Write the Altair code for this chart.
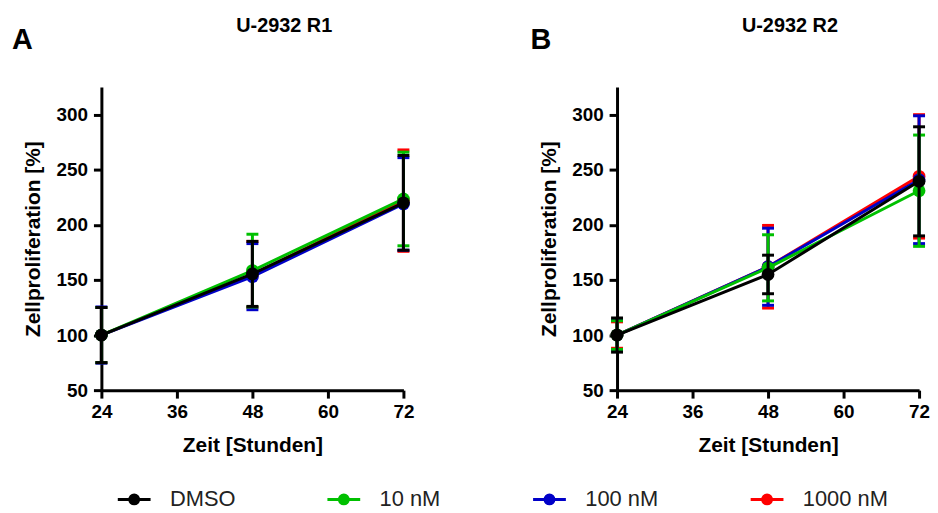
import altair as alt
import pandas as pd

TIMES = [24, 48, 72]
SERIES = ["DMSO", "10 nM", "100 nM", "1000 nM"]
COLORS = ["#000000", "#00C000", "#0000C8", "#FF0000"]
DRAW_ORDER = ["1000 nM", "100 nM", "10 nM", "DMSO"]

# Panel A (U-2932 R1): mean and SD per series at 24/48/72 h
R1_MEAN = {
    "DMSO":    [100, 155.5, 220],
    "10 nM":   [100, 158.5, 223.5],
    "100 nM":  [100, 153, 219],
    "1000 nM": [100, 155, 222],
}
R1_SD = {
    "DMSO":    [25, 29.5, 43],
    "10 nM":   [25, 33, 42.5],
    "100 nM":  [25.5, 30, 42],
    "1000 nM": [25, 30, 46],
}
# Panel B (U-2932 R2)
R2_MEAN = {
    "DMSO":    [100, 155, 239.5],
    "10 nM":   [100, 161, 231],
    "100 nM":  [100, 162, 241],
    "1000 nM": [100, 162, 244],
}
R2_SD = {
    "DMSO":    [15.5, 17.5, 49.5],
    "10 nM":   [13, 30, 50.5],
    "100 nM":  [13.5, 35, 58],
    "1000 nM": [12, 37.5, 56],
}

X_TICKS = [24, 36, 48, 60, 72]
Y_TICKS = [50, 100, 150, 200, 250, 300]

rows = []
for panel, means, sds in [("R1", R1_MEAN, R1_SD), ("R2", R2_MEAN, R2_SD)]:
    for s in SERIES:
        for t, m, e in zip(TIMES, means[s], sds[s]):
            rows.append({"panel": panel, "series": s, "time": t, "mean": m,
                         "lo": m - e, "hi": m + e})
df = pd.DataFrame(rows)

FONT = "Liberation Sans"
LEGEND_PATH = ("M-1,0H1"
               "M0.27,0A0.27,0.27,0,1,1,-0.27,0A0.27,0.27,0,1,1,0.27,0Z"
               "M0.1,0A0.1,0.1,0,1,1,-0.1,0A0.1,0.1,0,1,1,0.1,0Z")


def panel_chart(panel, title, letter, title_dx, letter_dx):
    xenc = alt.X("time:Q",
                 scale=alt.Scale(domain=[24, 72], nice=False, zero=False),
                 axis=alt.Axis(values=X_TICKS, title="Zeit [Stunden]", grid=False,
                               tickSize=8, tickWidth=3, domainWidth=3,
                               domainColor="black", tickColor="black",
                               labelFont=FONT, labelFontSize=19, labelFontWeight="bold",
                               labelColor="black", labelPadding=5, labelFlush=False,
                               titleFont=FONT, titleFontSize=21, titleFontWeight="bold",
                               titleColor="black", titleY=56, titleBaseline="middle"))
    yaxis = alt.Axis(values=Y_TICKS, title="Zellproliferation [%]", grid=False,
                     tickSize=8, tickWidth=3, domainWidth=3,
                     domainColor="black", tickColor="black",
                     labelFont=FONT, labelFontSize=19, labelFontWeight="bold",
                     labelColor="black", labelPadding=6,
                     titleFont=FONT, titleFontSize=21, titleFontWeight="bold",
                     titleColor="black", titleX=-68, titleBaseline="middle")
    yscale = alt.Scale(domain=[50, 325], nice=False, zero=False)

    base = alt.Chart(df).transform_filter(alt.datum.panel == panel)
    layers = []
    first = True
    for s in DRAW_ORDER:
        b = base.transform_filter(alt.datum.series == s)
        if first and panel == "R1":
            legend = alt.Legend(
                title=None, orient="none", direction="horizontal",
                legendX=15, legendY=397, symbolType=LEGEND_PATH,
                symbolSize=1089, symbolStrokeWidth=3, labelFont=FONT,
                labelFontSize=22, labelColor="#222222", labelOffset=18,
                columnPadding=86, padding=0, symbolOpacity=1)
        else:
            legend = None
        first = False
        col = alt.Color("series:N",
                        scale=alt.Scale(domain=SERIES, range=COLORS),
                        legend=legend)
        col_nl = alt.Color("series:N",
                           scale=alt.Scale(domain=SERIES, range=COLORS),
                           legend=None)
        line = b.mark_line(strokeWidth=3).encode(
            x=xenc, y=alt.Y("mean:Q", scale=yscale, axis=yaxis), color=col)
        rule = b.mark_rule(strokeWidth=3).encode(
            x=xenc, y=alt.Y("lo:Q", scale=yscale, axis=yaxis), y2="hi:Q", color=col_nl)
        cap_hi = b.mark_tick(orient="horizontal", size=12, thickness=3, opacity=1).encode(
            x=xenc, y=alt.Y("hi:Q", scale=yscale, axis=yaxis), color=col_nl)
        cap_lo = b.mark_tick(orient="horizontal", size=12, thickness=3, opacity=1).encode(
            x=xenc, y=alt.Y("lo:Q", scale=yscale, axis=yaxis), color=col_nl)
        pts = b.mark_point(filled=True, size=165, opacity=1).encode(
            x=xenc, y=alt.Y("mean:Q", scale=yscale, axis=yaxis), color=col_nl)
        layers += [line, rule, cap_hi, cap_lo, pts]

    ttl = alt.Chart(pd.DataFrame({"t": [title]})).mark_text(
        font=FONT, fontSize=20, fontWeight="bold", align="center",
        baseline="middle", color="black").encode(
        text="t:N", x=alt.value(title_dx), y=alt.value(-61))
    let = alt.Chart(pd.DataFrame({"t": [letter]})).mark_text(
        font=FONT, fontSize=29, fontWeight="bold", align="left",
        baseline="middle", color="black").encode(
        text="t:N", x=alt.value(letter_dx), y=alt.value(-47))
    return alt.layer(*layers, ttl, let).properties(width=304, height=305)


pa = panel_chart("R1", "U-2932 R1", "A", 184, -90)
pb = panel_chart("R2", "U-2932 R2", "B", 174, -87)

chart = alt.hconcat(pa, pb, spacing=117).properties(
    padding={"left": 4, "top": 7, "right": 0, "bottom": 0}
).configure(background="white").configure_view(stroke=None)

chart.save("out.html", embed_options={"renderer": "svg", "actions": False})
